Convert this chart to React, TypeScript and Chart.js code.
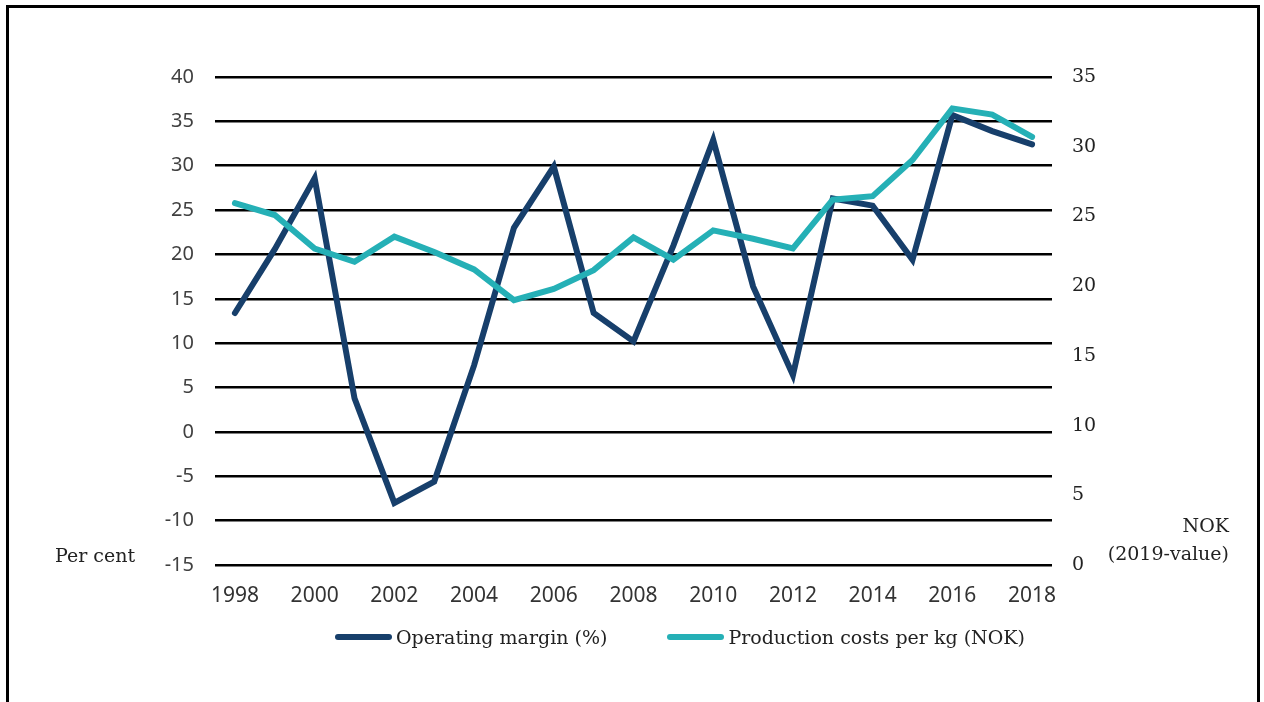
import React, { useEffect, useRef } from "react";
import { Chart, registerables } from "chart.js";

Chart.register(...registerables);

const years = ["1998","1999","2000","2001","2002","2003","2004","2005","2006","2007","2008","2009","2010","2011","2012","2013","2014","2015","2016","2017","2018"];
const operatingMargin = [13.4, 20.6, 28.6, 3.8, -8.0, -5.6, 7.5, 23.0, 29.9, 13.4, 10.2, 21.0, 32.9, 16.4, 6.4, 26.3, 25.5, 19.4, 35.7, 33.9, 32.4];
const productionCosts = [25.95, 25.1, 22.7, 21.75, 23.55, 22.45, 21.2, 19.0, 19.8, 21.15, 23.5, 21.9, 24.0, 23.4, 22.7, 26.2, 26.45, 29.05, 32.75, 32.3, 30.7];

const marginLabel = "Operating margin (%)";
const costLabel = "Production costs per kg (NOK)";
const leftTitle = "Per cent";
const rightTitle = ["NOK", "(2019-value)"];

const NAVY = "#173f6b";
const TEAL = "#25b0b6";
const SERIF = "'DejaVu Serif', serif";
const SANS = "'Noto Sans', sans-serif";

const textPlugin = {
  id: "sideTexts",
  afterDraw(chart: any) {
    const ctx = chart.ctx;
    ctx.save();
    ctx.fillStyle = "#222";
    ctx.font = `19px ${SERIF}`;
    ctx.textBaseline = "middle";
    ctx.textAlign = "left";
    ctx.fillText(leftTitle, 55, 557);
    ctx.textAlign = "right";
    ctx.fillText(rightTitle[0], 1229, 527);
    ctx.fillText(rightTitle[1], 1229, 555);
    ctx.restore();
  },
};

export default function App() {
  const ref = useRef<HTMLCanvasElement>(null);
  useEffect(() => {
    if (!ref.current) return;
    const chart = new Chart(ref.current, {
      type: "line",
      data: {
        labels: years,
        datasets: [
          {
            label: marginLabel,
            data: operatingMargin,
            borderColor: NAVY,
            backgroundColor: NAVY,
            borderWidth: 6,
            pointRadius: 0,
            tension: 0,
            yAxisID: "y",
            order: 2,
            borderCapStyle: "round",
          },
          {
            label: costLabel,
            data: productionCosts,
            borderColor: TEAL,
            backgroundColor: TEAL,
            borderWidth: 6,
            pointRadius: 0,
            tension: 0,
            yAxisID: "y2",
            order: 1,
            borderCapStyle: "round",
          },
        ],
      },
      options: {
        animation: false,
        responsive: true,
        maintainAspectRatio: false,
        layout: { padding: { top: 77, bottom: 100, left: 0, right: 0 } },
        plugins: { legend: { display: false }, tooltip: { enabled: false } },
        scales: {
          x: {
            offset: true,
            grid: { display: false },
            border: { display: false },
            ticks: {
              autoSkip: false,
              maxRotation: 0,
              color: "#333",
              font: { family: SANS, size: 21 },
              padding: 10,
              callback: (_v: any, i: number) => (i % 2 === 0 ? years[i] : ""),
            },
            afterFit: (s: any) => { s.height = 37; },
          },
          y: {
            position: "left",
            min: -15,
            max: 40,
            ticks: { stepSize: 5, color: "#404040", font: { family: SANS, size: 20 }, padding: 21 },
            grid: { color: "#000", lineWidth: 2.5, drawTicks: false },
            border: { display: false },
            afterFit: (s: any) => { s.width = 215; },
          },
          y2: {
            position: "right",
            min: 0,
            max: 35,
            ticks: { stepSize: 5, color: "#222", font: { family: SERIF, size: 19 }, padding: 20 },
            grid: { display: false, drawTicks: false },
            border: { display: false },
            afterFit: (s: any) => { s.width = 212; },
          },
        },
      },
      plugins: [textPlugin],
    });
    return () => chart.destroy();
  }, []);

  const swatch = (c: string) => (
    <span style={{ display: "inline-block", width: 57, height: 6, borderRadius: 3, background: c, marginRight: 4 }} />
  );

  return (
    <div style={{ position: "fixed", left: 0, top: 0, width: 1264, height: 702, background: "#fff" }}>
      <div style={{ position: "absolute", left: 6, top: 5, width: 1248, height: 720, border: "3px solid #000" }} />
      <div style={{ position: "absolute", left: 0, top: 0, width: 1264, height: 702 }}>
        <canvas ref={ref} />
      </div>
      <div style={{ position: "absolute", left: 335, top: 624, height: 26, display: "flex", alignItems: "center", fontFamily: SERIF, fontSize: 19, color: "#222", whiteSpace: "nowrap" }}>
        {swatch(NAVY)}
        <span>{marginLabel}</span>
        <span style={{ width: 60, display: "inline-block" }} />
        {swatch(TEAL)}
        <span>{costLabel}</span>
      </div>
    </div>
  );
}
